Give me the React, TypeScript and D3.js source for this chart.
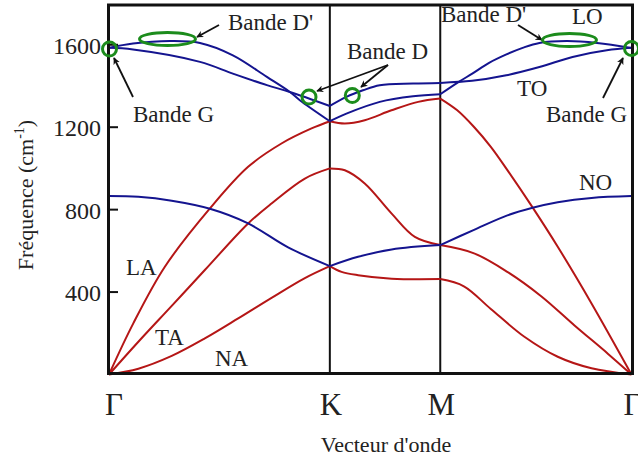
import React from "react";
import * as d3 from "d3";

// High-symmetry points (path coordinate) and labels
const symK = [0, 1, 1.5, 2.366];
const symLabels = ["Γ", "K", "M", "Γ"];
const yTicks = [400, 800, 1200, 1600];

// Acoustic branches (red)
const branchNA: [number, number][] = [
  [0, 0], [0.133, 28], [0.284, 90], [0.434, 175], [0.585, 272], [0.736, 372], [0.887, 468], [1, 526],
  [1.053, 498], [1.128, 482], [1.28, 465], [1.5, 463],
  [1.607, 428], [1.729, 318], [1.881, 183], [2.032, 86], [2.185, 30], [2.366, 0],
];
const branchTA: [number, number][] = [
  [0, 0], [0.133, 159], [0.284, 333], [0.434, 507], [0.63, 733], [0.736, 830], [0.887, 951], [1, 1000],
  [1.068, 991], [1.158, 927], [1.279, 782], [1.385, 668], [1.5, 628],
  [1.653, 588], [1.804, 498], [1.957, 380], [2.108, 238], [2.26, 100], [2.366, 0],
];
const branchLA: [number, number][] = [
  [0, 0], [0.11, 248], [0.253, 523], [0.457, 806], [0.63, 1008], [0.781, 1121], [0.917, 1194], [1, 1229],
  [1.068, 1218], [1.158, 1234], [1.279, 1282], [1.4, 1323], [1.5, 1339],
  [1.577, 1282], [1.653, 1201], [1.729, 1105], [1.804, 992], [1.918, 811], [2.032, 620], [2.185, 345], [2.366, 0],
];
// Optical branches (blue)
const branchZO: [number, number][] = [
  [0, 866], [0.133, 862], [0.284, 843], [0.457, 804], [0.63, 733], [0.811, 617], [1, 526],
  [1.128, 571], [1.28, 607], [1.5, 628],
  [1.653, 702], [1.804, 772], [1.918, 809], [2.032, 836], [2.185, 857], [2.366, 866],
];
const branchLO: [number, number][] = [
  [0, 1585], [0.109, 1606], [0.276, 1618], [0.412, 1609], [0.561, 1549], [0.715, 1444], [0.819, 1371], [0.864, 1331], [1, 1229],
  [1.075, 1266], [1.226, 1323], [1.377, 1350], [1.5, 1360],
  [1.584, 1420], [1.645, 1460], [1.721, 1512], [1.797, 1552], [1.873, 1585], [1.949, 1609], [2.073, 1618], [2.21, 1609], [2.366, 1585],
];
const branchTO: [number, number][] = [
  [0, 1585], [0.109, 1577], [0.412, 1517], [0.561, 1460], [0.715, 1404], [0.819, 1371], [1, 1303],
  [1.075, 1347], [1.15, 1379], [1.226, 1404], [1.377, 1412], [1.5, 1415],
  [1.644, 1425], [1.799, 1452], [1.949, 1492], [2.099, 1541], [2.254, 1573], [2.366, 1585],
];

const redBranches = [branchNA, branchTA, branchLA];
const blueBranches = [branchZO, branchLO, branchTO];

const RED = "#b51616";
const BLUE = "#14148f";
const GREEN = "#1c8c1c";
const FONT = "'Liberation Serif', 'Times New Roman', serif";

const W = 638, H = 461;
const x = d3.scaleLinear().domain([0, 2.366]).range([109, 631.5]);
const y = d3.scaleLinear().domain([0, 1793]).range([374.5, 5]);

function segments(pts: [number, number][]): [number, number][][] {
  const bounds = [0, 1, 1.5, 2.366];
  const out: [number, number][][] = [];
  for (let i = 0; i < bounds.length - 1; i++) {
    out.push(pts.filter((p) => p[0] >= bounds[i] - 1e-9 && p[0] <= bounds[i + 1] + 1e-9));
  }
  return out;
}

const line = d3
  .line<[number, number]>()
  .x((d) => x(d[0]))
  .y((d) => y(d[1]))
  .curve(d3.curveCatmullRom.alpha(0.5));

type Arrow = { x1: number; y1: number; x2: number; y2: number };
const arrows: Arrow[] = [
  { x1: 219, y1: 25, x2: 197, y2: 37 },
  { x1: 133, y1: 97, x2: 114, y2: 58 },
  { x1: 388, y1: 65, x2: 317, y2: 91 },
  { x1: 388, y1: 65, x2: 361, y2: 87 },
  { x1: 518, y1: 25, x2: 542, y2: 40 },
  { x1: 603, y1: 98, x2: 623, y2: 58 },
];

const labels: { t: string; x: number; y: number }[] = [
  { t: "Bande D'", x: 228, y: 30 },
  { t: "Bande G", x: 133, y: 122 },
  { t: "Bande D", x: 347, y: 59 },
  { t: "Bande D'", x: 441, y: 22 },
  { t: "LO", x: 572, y: 24 },
  { t: "TO", x: 517, y: 96 },
  { t: "Bande G", x: 546, y: 122 },
  { t: "NO", x: 579, y: 190 },
  { t: "LA", x: 126, y: 275 },
  { t: "TA", x: 155, y: 345 },
  { t: "NA", x: 215, y: 366 },
];

export default function App() {
  return (
    <svg width={W} height={H} style={{ display: "block", position: "absolute", left: 0, top: 0 }}>
      <defs>
        <marker id="ah" viewBox="0 0 10 10" refX="9" refY="5" markerWidth="7" markerHeight="7" orient="auto" markerUnits="userSpaceOnUse">
          <path d="M0,0 L10,5 L0,10 L3,5 Z" fill="#111" />
        </marker>
      </defs>
      <rect x={0} y={0} width={W} height={H} fill="#fff" />
      {/* vertical lines at K and M */}
      {symK.slice(1, 3).map((k, i) => (
        <line key={i} x1={x(k)} x2={x(k)} y1={y(1793)} y2={y(0)} stroke="#111" strokeWidth={2} />
      ))}
      {/* curves */}
      {redBranches.map((b, i) =>
        segments(b).map((s, j) => (
          <path key={`r${i}-${j}`} d={line(s) || ""} fill="none" stroke={RED} strokeWidth={2} />
        ))
      )}
      {blueBranches.map((b, i) =>
        segments(b).map((s, j) => (
          <path key={`b${i}-${j}`} d={line(s) || ""} fill="none" stroke={BLUE} strokeWidth={2} />
        ))
      )}
      {/* frame */}
      <rect x={108.5} y={5} width={524} height={368.5} fill="none" stroke="#111" strokeWidth={3} />
      {/* y ticks */}
      {yTicks.map((t) => (
        <g key={t}>
          <line x1={108.5} x2={118} y1={y(t)} y2={y(t)} stroke="#111" strokeWidth={2} />
          <text x={101} y={y(t) + 9} textAnchor="end" fontFamily={FONT} fontSize={24} fill="#222">
            {t}
          </text>
        </g>
      ))}
      {/* x labels */}
      {symK.map((k, i) => (
        <text key={i} x={x(k) + (i === 0 ? 5 : 1)} y={415} textAnchor="middle" fontFamily={FONT} fontSize={31} fill="#222">
          {symLabels[i]}
        </text>
      ))}
      <text x={386} y={452} textAnchor="middle" fontFamily={FONT} fontSize={22} fill="#222">
        Vecteur d'onde
      </text>
      <text transform="translate(33,195) rotate(-90)" textAnchor="middle" fontFamily={FONT} fontSize={22} fill="#222">
        Fréquence (cm
        <tspan fontSize={14} dy={-9}>-1</tspan>
        <tspan dy={9}>)</tspan>
      </text>
      {/* annotations */}
      {labels.map((l, i) => (
        <text key={i} x={l.x} y={l.y} fontFamily={FONT} fontSize={23} fill="#222">
          {l.t}
        </text>
      ))}
      {arrows.map((a, i) => (
        <line key={i} x1={a.x1} y1={a.y1} x2={a.x2} y2={a.y2} stroke="#111" strokeWidth={1.8} markerEnd="url(#ah)" />
      ))}
      {/* green highlights */}
      <ellipse cx={167.5} cy={39} rx={28} ry={6.5} fill="none" stroke={GREEN} strokeWidth={3} />
      <ellipse cx={569.5} cy={40} rx={27} ry={6.5} fill="none" stroke={GREEN} strokeWidth={3} />
      <circle cx={109.5} cy={49} r={7} fill="none" stroke={GREEN} strokeWidth={3} />
      <circle cx={631.5} cy={48.5} r={7} fill="none" stroke={GREEN} strokeWidth={3} />
      <circle cx={309} cy={97} r={7} fill="none" stroke={GREEN} strokeWidth={3} />
      <circle cx={352.3} cy={95.5} r={7} fill="none" stroke={GREEN} strokeWidth={3} />
    </svg>
  );
}
